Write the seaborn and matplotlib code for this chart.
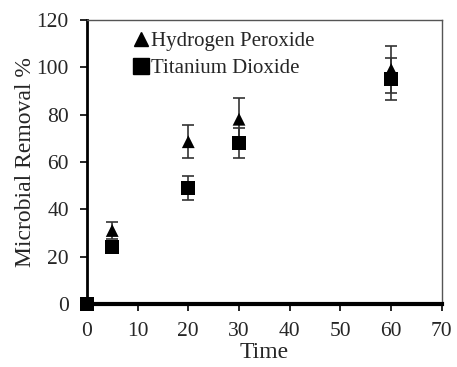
import matplotlib
matplotlib.use("Agg")
import matplotlib.pyplot as plt
import seaborn as sns
import pandas as pd
import numpy as np
from matplotlib.lines import Line2D

time = [0, 5, 20, 30, 60]
h2o2 = [0, 31, 68.5, 78, 99]
h2o2_err = [0, 3.5, 7, 9, 10]
tio2 = [0, 24, 49, 68, 95]
tio2_err = [0, 0, 5, 6.5, 9]
series = ["Hydrogen Peroxide", "Titanium Dioxide"]
xticks = [0, 10, 20, 30, 40, 50, 60, 70]
yticks = [0, 20, 40, 60, 80, 100, 120]

sns.set_theme(style="white")
plt.rcParams['font.family'] = ['Liberation Serif', 'DejaVu Serif']

df = pd.DataFrame({
    "Time": time * 2,
    "Removal": h2o2 + tio2,
    "Err": h2o2_err + tio2_err,
    "Series": [series[0]] * len(time) + [series[1]] * len(time),
})

fig = plt.figure(figsize=(4.57, 3.67), dpi=100)
ax = fig.add_axes([0.19, 0.172, 0.777, 0.774])

for name in series:
    d = df[df.Series == name]
    ax.errorbar(d.Time, d.Removal, yerr=d.Err, fmt="none", ecolor="#333333",
                elinewidth=1.2, capsize=4, capthick=1.2, zorder=2)

sns.scatterplot(data=df, x="Time", y="Removal", hue="Series", style="Series",
                markers={series[0]: "^", series[1]: "s"},
                palette={series[0]: "black", series[1]: "black"},
                size="Series", sizes={series[0]: 85, series[1]: 100},
                edgecolor="black", linewidth=0, ax=ax, zorder=3, clip_on=False,
                legend=False)

ax.set_xlim(0, 70)
ax.set_ylim(0, 120)
ax.set_xticks(xticks)
ax.set_yticks(yticks)
ax.tick_params(axis="both", direction="out", length=5, width=1.2, color="black",
               labelsize=15.5, bottom=True, left=True)
ax.tick_params(axis="y", pad=8)
ax.tick_params(axis="x", pad=8)
ax.set_xlabel("Time", fontsize=17, labelpad=1)
ax.set_ylabel("Microbial Removal %", fontsize=17, labelpad=0)

for s in ["top", "right"]:
    ax.spines[s].set_color("#555555")
    ax.spines[s].set_linewidth(1.0)
ax.spines["bottom"].set_color("black")
ax.spines["bottom"].set_linewidth(3)
ax.spines["left"].set_color("black")
ax.spines["left"].set_linewidth(2)

handles = [Line2D([], [], marker="^", color="black", linestyle="none", markersize=10),
           Line2D([], [], marker="s", color="black", linestyle="none", markersize=11)]
leg = ax.legend(handles, series, loc="upper left", bbox_to_anchor=(0.133, 0.958),
                frameon=False, handlelength=0.7, handletextpad=0.1,
                labelspacing=0.35, borderpad=0, borderaxespad=0,
                prop={"family": "Liberation Serif", "size": 15})

fig.savefig("out.png", dpi=100)
